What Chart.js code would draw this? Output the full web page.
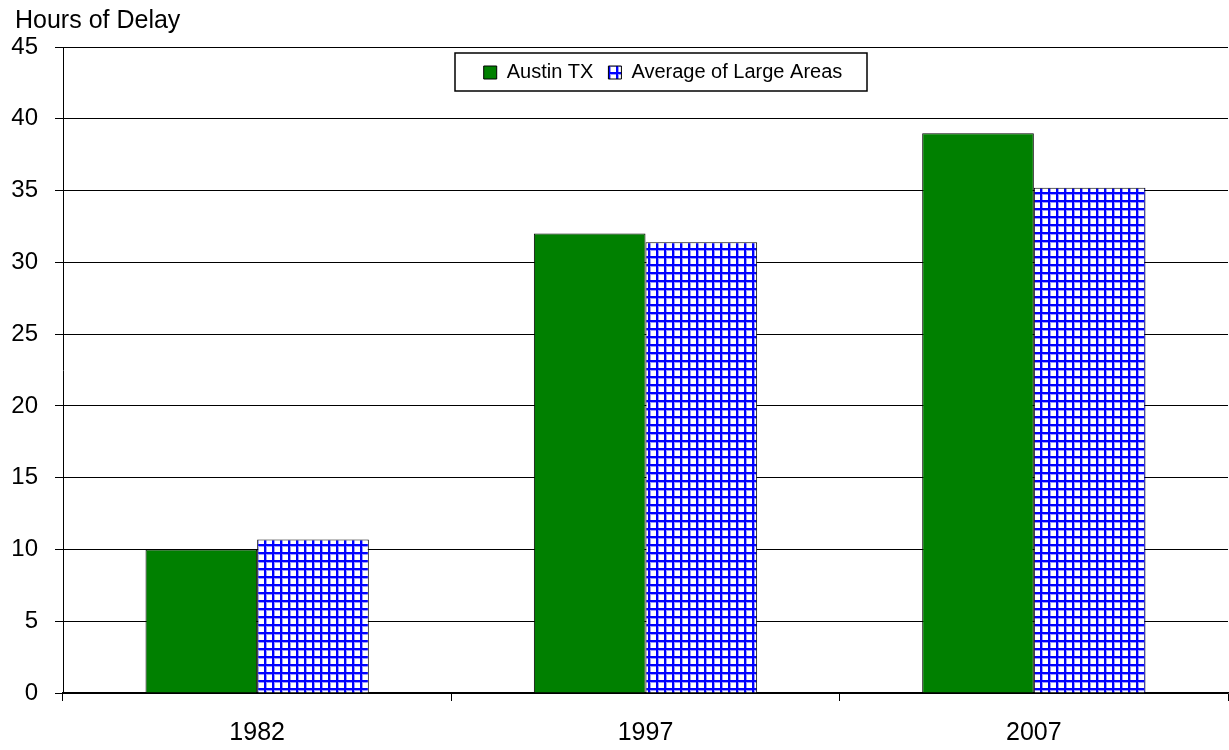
<!DOCTYPE html>
<html>
<head>
<meta charset="utf-8">
<title>Hours of Delay</title>
<script src="https://cdn.jsdelivr.net/npm/chart.js@4/dist/chart.umd.min.js"></script>
<style>
  body { margin: 0; background: #fff; }
  #wrap { width: 1229px; height: 750px; }
</style>
</head>
<body>
<div id="wrap"><canvas id="myChart" width="1229" height="750"></canvas></div>
<script>
const years = ['1982', '1997', '2007'];
const austin = [10, 32, 39];
const largeAreas = [10.7, 31.4, 35.2];
const seriesNames = ['Austin TX', 'Average of Large Areas'];
const yTitle = 'Hours of Delay';

const FONT = "'Liberation Sans', Arial, sans-serif";

// blue checked fill like the office pattern
function gridPattern() {
  const c = document.createElement('canvas');
  c.width = 8; c.height = 8;
  const g = c.getContext('2d');
  g.fillStyle = '#ffffff';
  g.fillRect(0, 0, 8, 8);
  g.fillStyle = '#9a9aff';
  g.fillRect(2, 0, 1, 8);
  g.fillRect(0, 2, 8, 1);
  g.fillStyle = '#0000ff';
  g.fillRect(0, 0, 2, 8);
  g.fillRect(0, 0, 8, 2);
  return g.createPattern(c, 'repeat');
}

const extras = {
  id: 'extras',
  afterLayout(chart) {
    // legend sits inside the plot, a bit right of centre
    const lg = chart.legend;
    lg.left += 49; lg.right += 49;
    lg.top += 45.5; lg.bottom += 45.5;
  },
  afterDraw(chart) {
    const ctx = chart.ctx;
    const boxes = chart.legend.legendHitBoxes;
    if (boxes && boxes.length) {
      let l = Infinity, r = -Infinity, t = Infinity, b = -Infinity;
      boxes.forEach(h => {
        l = Math.min(l, h.left); r = Math.max(r, h.left + h.width);
        t = Math.min(t, h.top); b = Math.max(b, h.top + h.height);
      });
      ctx.save();
      ctx.strokeStyle = '#000';
      ctx.lineWidth = 1.5;
      ctx.strokeRect(Math.round(l - 29), Math.round(t - 9.5),
                     Math.round(r - l + 53), Math.round(b - t + 18));
      ctx.restore();
    }
    ctx.save();
    ctx.fillStyle = '#000';
    ctx.font = '25px ' + FONT;
    ctx.textBaseline = 'alphabetic';
    ctx.fillText(yTitle, 15, 28);
    ctx.restore();
  }
};

const ctx = document.getElementById('myChart').getContext('2d');
const myChart = new Chart(ctx, {
  type: 'bar',
  data: {
    labels: years,
    datasets: [{
      label: seriesNames[0],
      data: austin,
      backgroundColor: '#008000',
      borderColor: '#000',
      borderWidth: 1
    }, {
      label: seriesNames[1],
      data: largeAreas,
      backgroundColor: gridPattern(),
      borderColor: '#000',
      borderWidth: 1
    }]
  },
  plugins: [extras],
  options: {
    responsive: false,
    animation: false,
    layout: { padding: { top: 2, right: 1, left: 0, bottom: 0 } },
    datasets: { bar: { categoryPercentage: 0.575, barPercentage: 1 } },
    plugins: {
      title: { display: false },
      tooltip: { enabled: false },
      legend: {
        position: 'top',
        align: 'center',
        labels: {
          color: '#000',
          font: { family: FONT, size: 20 },
          boxWidth: 13,
          boxHeight: 13,
          padding: 15
        }
      }
    },
    scales: {
      x: {
        afterFit(s) { s.height = 57; },
        grid: { display: true, drawOnChartArea: false, drawTicks: true, tickLength: 8, color: '#000', offset: true },
        border: { display: true, color: '#000', width: 1.5 },
        ticks: { color: '#000', font: { family: FONT, size: 25 }, padding: 17 }
      },
      y: {
        min: 0,
        max: 45,
        afterFit(s) { s.width = 63; },
        grid: { color: '#000', lineWidth: 1, tickLength: 8 },
        border: { display: true, color: '#000', width: 1 },
        ticks: { stepSize: 5, color: '#000', font: { family: FONT, size: 24 }, padding: 17 }
      }
    }
  }
});
</script>
</body>
</html>
